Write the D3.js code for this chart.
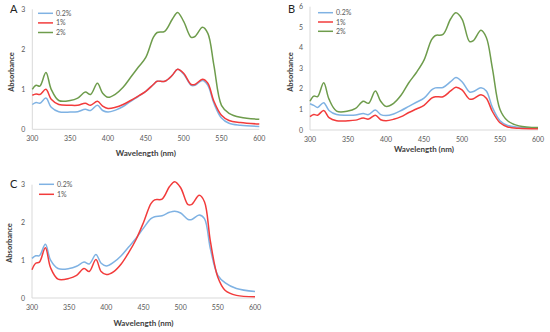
<!DOCTYPE html>
<html><head><meta charset="utf-8">
<script src="https://cdn.jsdelivr.net/npm/d3@7"></script>
<style>body{margin:0;background:#fff}svg{display:block}</style>
</head><body>
<svg id="c" width="550" height="332"></svg>
<script>
const seriesNames = ["0.2%", "1%", "2%"];
const colors = ["#7fb2e3", "#f23b3b", "#6e9c4c"];
const xTicks = [300, 350, 400, 450, 500, 550, 600];

const wlA = [300,305,310,318,325,335,350,360,370,377,386,393,400,410,420,430,440,450,460,465,475,485,492,500,510,515,525,532,540,550,560,575,600];
const aBlue  = [0.62,0.67,0.65,0.78,0.55,0.44,0.43,0.44,0.50,0.47,0.60,0.47,0.43,0.48,0.57,0.70,0.82,0.95,1.12,1.20,1.20,1.35,1.50,1.38,1.10,1.10,1.22,1.10,0.65,0.28,0.15,0.10,0.07];
const aRed   = [0.85,0.88,0.87,1.00,0.75,0.62,0.60,0.60,0.65,0.60,0.70,0.58,0.52,0.55,0.62,0.72,0.83,0.95,1.12,1.20,1.20,1.35,1.50,1.40,1.12,1.12,1.25,1.15,0.70,0.35,0.22,0.17,0.13];
const aGreen = [1.00,1.10,1.08,1.42,1.00,0.72,0.72,0.78,0.93,0.87,1.15,0.90,0.80,0.88,1.05,1.30,1.55,1.80,2.30,2.42,2.45,2.75,2.92,2.70,2.30,2.32,2.55,2.40,1.60,0.60,0.40,0.30,0.25];

const bBlue  = [1.28,1.20,1.10,1.33,0.95,0.75,0.72,0.73,0.80,0.75,0.97,0.75,0.70,0.78,0.95,1.15,1.35,1.55,1.95,2.05,2.07,2.35,2.55,2.35,1.85,1.87,2.05,1.90,1.10,0.45,0.22,0.14,0.10];
const bRed   = [0.65,0.75,0.72,0.95,0.60,0.45,0.45,0.48,0.58,0.53,0.72,0.50,0.45,0.52,0.65,0.85,1.02,1.20,1.55,1.62,1.62,1.90,2.08,1.95,1.50,1.52,1.72,1.55,0.90,0.35,0.15,0.08,0.06];
const bGreen = [1.40,1.65,1.62,2.30,1.50,0.92,0.92,1.05,1.40,1.30,1.90,1.40,1.15,1.30,1.70,2.30,2.80,3.40,4.40,4.60,4.65,5.40,5.70,5.40,4.30,4.35,4.85,4.50,3.00,1.00,0.45,0.20,0.12];

const cBlue  = [1.05,1.12,1.12,1.42,1.00,0.78,0.78,0.84,0.95,0.90,1.15,0.92,0.85,0.95,1.12,1.35,1.58,1.85,2.10,2.15,2.18,2.27,2.30,2.25,2.08,2.08,2.20,2.10,1.30,0.60,0.40,0.25,0.17];
const cRed   = [0.75,0.92,0.95,1.33,0.80,0.50,0.52,0.60,0.78,0.70,1.02,0.70,0.62,0.70,0.90,1.20,1.55,2.00,2.50,2.60,2.62,2.95,3.08,2.92,2.47,2.48,2.72,2.55,1.50,0.55,0.20,0.07,0.03];

const panels = [
  {letter:"A", x0:32.3, x1:259.3, y0:129.3, y1:9.3, ymax:3, yTicks:[0,1,2,3], series:[aBlue,aRed,aGreen], names:seriesNames,
   letterPos:[10,13], ylabX:11, ylabY:72, xlabY:156, tickY:141, leg:[38,13.3,9.6]},
  {letter:"B", x0:310, x1:538, y0:130, y1:6.7, ymax:6, yTicks:[0,1,2,3,4,5,6], series:[bBlue,bRed,bGreen], names:seriesNames,
   letterPos:[288,13], ylabX:290, ylabY:72, xlabY:152, tickY:142, leg:[318,12.7,9.3]},
  {letter:"C", x0:32, x1:255, y0:298, y1:184.7, ymax:3, yTicks:[0,1,2,3], series:[cBlue,cRed], names:seriesNames.slice(0,2),
   letterPos:[10,188], ylabX:9, ylabY:243, xlabY:326, tickY:310, leg:[39,184.3,10]}
];

const svg = d3.select("#c");
const font = "Lato, 'Liberation Sans', sans-serif";

panels.forEach(p => {
  const x = d3.scaleLinear().domain([300,600]).range([p.x0,p.x1]);
  const y = d3.scaleLinear().domain([0,p.ymax]).range([p.y0,p.y1]);
  const g = svg.append("g");
  g.append("line").attr("x1",p.x0).attr("x2",p.x0).attr("y1",p.y1).attr("y2",p.y0).attr("stroke","#d9d9d9").attr("stroke-width",1);
  g.append("line").attr("x1",p.x0).attr("x2",p.x1).attr("y1",p.y0).attr("y2",p.y0).attr("stroke","#d9d9d9").attr("stroke-width",1);
  g.selectAll(".yt").data(p.yTicks).join("text")
    .attr("x",p.x0-7).attr("y",d=>y(d)+2.5).attr("text-anchor","end")
    .attr("font-family",font).attr("font-size",7).attr("fill","#595959").text(d=>d);
  g.selectAll(".xt").data(xTicks).join("text")
    .attr("x",d=>x(d)).attr("y",p.tickY).attr("text-anchor","middle")
    .attr("font-family",font).attr("font-size",7).attr("fill","#595959").text(d=>d);
  g.append("text").attr("x",(p.x0+p.x1)/2).attr("y",p.xlabY).attr("text-anchor","middle")
    .attr("font-family",font).attr("font-size",8).attr("font-weight","bold").attr("fill","#404040").text("Wavelength (nm)");
  g.append("text").attr("transform",`translate(${p.ylabX},${p.ylabY}) rotate(-90)`).attr("text-anchor","middle")
    .attr("dy","0.35em").attr("font-family",font).attr("font-size",7.5).attr("font-weight","bold").attr("fill","#404040").text("Absorbance");
  g.append("text").attr("x",p.letterPos[0]).attr("y",p.letterPos[1]).attr("font-family",font).attr("font-size",11).attr("fill","#222").text(p.letter);
  const line = d3.line().x(d=>x(d[0])).y(d=>y(d[1])).curve(d3.curveCatmullRom.alpha(0.5));
  p.series.forEach((vals,i) => {
    g.append("path").datum(wlA.map((w,j)=>[w,vals[j]])).attr("d",line)
      .attr("fill","none").attr("stroke",colors[i]).attr("stroke-width",1.5);
  });
  p.names.forEach((n,i) => {
    const ly = p.leg[1] + i*p.leg[2];
    g.append("line").attr("x1",p.leg[0]).attr("x2",p.leg[0]+15).attr("y1",ly).attr("y2",ly).attr("stroke",colors[i]).attr("stroke-width",1.5);
    g.append("text").attr("x",p.leg[0]+18).attr("y",ly+2.5).attr("font-family",font).attr("font-size",7).attr("fill","#595959").text(n);
  });
});
</script>
</body></html>
